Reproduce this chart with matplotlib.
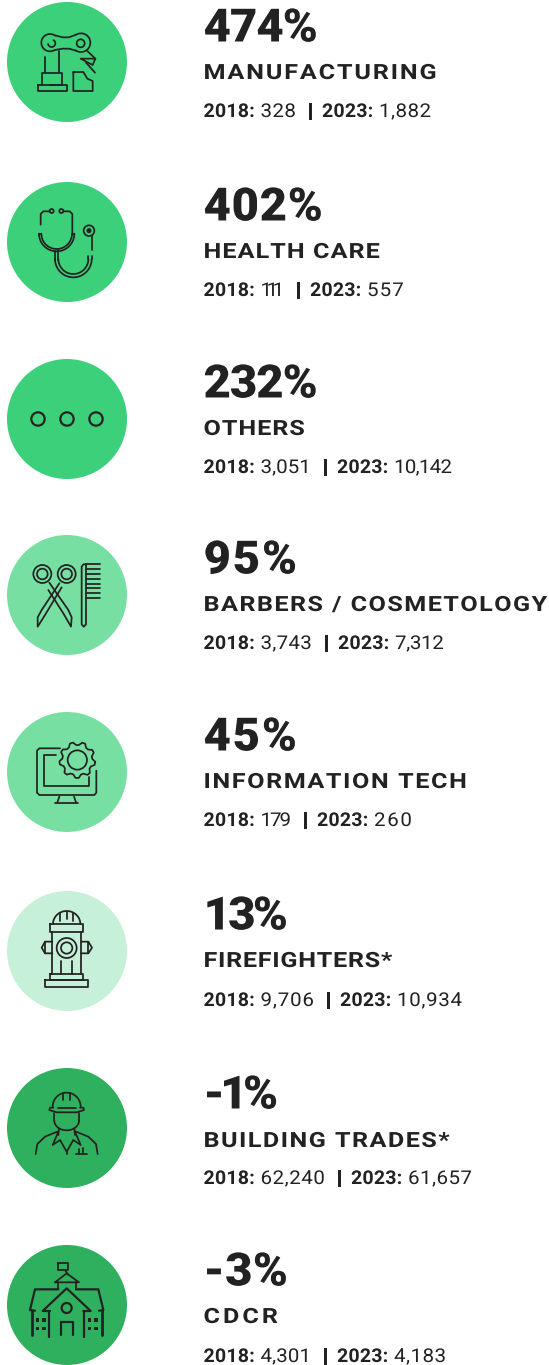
import numpy as np
import matplotlib
matplotlib.use("Agg")
import matplotlib.pyplot as plt
from matplotlib.patches import Circle, Rectangle
from matplotlib.patheffects import AbstractPathEffect
from matplotlib.path import Path
from matplotlib.textpath import text_to_path
from matplotlib.transforms import Affine2D

# ---- data ----
pct_labels = ["474%", "402%", "232%", "95%", "45%", "13%", "-1%", "-3%"]
sectors = ["MANUFACTURING", "HEALTH CARE", "OTHERS", "BARBERS / COSMETOLOGY",
           "INFORMATION TECH", "FIREFIGHTERS*", "BUILDING TRADES*", "CDCR"]
values_2018 = ["328", "111", "3,051", "3,743", "179", "9,706", "62,240", "4,301"]
values_2023 = ["1,882", "557", "10,142", "7,312", "260", "10,934", "61,657", "4,183"]
circle_colors = ["#3DD07A", "#3DD07A", "#3DD07A", "#78DFA2",
                 "#78DFA2", "#C6F0D8", "#2FB05E", "#2FB05E"]

# ---- layout (pixels) ----
W, H = 549, 1365
centers_y = [62, 242, 419, 595, 772, 951, 1128, 1305]
pct_base = [41.5, 220.5, 397.5, 573.5, 750.5, 929.5, 1108.5, 1285.5]
label_base = [79, 258, 435, 611, 788, 967, 1147, 1323]
stat_base = [117, 296, 473, 649, 826, 1006, 1184, 1362]
pct_end = [318, 323, 318, 297, 297, 288, 278, 288]
label_end = [437, 380, 305, 548, 467, 393, 450, 278]
x_2023 = [322, 310, 337, 338, 317, 340, 351, 337]
stat_end = [431, 404, 452, 444, 412, 462, 472, 446]
CX, R, TX = 67, 60, 203.5
INK = "#222222"
LW = 1.75

fig = plt.figure(figsize=(W / 72, H / 72), dpi=72, facecolor="white")
ax = fig.add_axes([0, 0, 1, 1])
ax.set_xlim(0, W)
ax.set_ylim(H, 0)
ax.axis("off")
renderer = fig.canvas.get_renderer()


class Track(AbstractPathEffect):
    """Letter tracking: shifts each glyph's outline by t px per preceding character."""
    def __init__(self, s, prop, t, sx, x0):
        super().__init__()
        self.t, self.sx, self.x0 = t, sx, x0
        self.edges = np.array([text_to_path.get_text_width_height_descent(s[:i], prop, False)[0]
                               for i in range(1, len(s))])

    def draw_path(self, renderer, gc, tpath, affine, rgbFace=None):
        a = abs(affine.get_matrix()[0, 0])
        v = tpath.vertices.copy()
        starts = list(np.nonzero(tpath.codes == Path.MOVETO)[0]) + [len(v)]
        for b, e in zip(starts[:-1], starts[1:]):
            c = (v[b:e, 0].min() + v[b:e, 0].max()) / 2 * a
            v[b:e, 0] += np.sum(self.edges <= c) * self.t / a / self.sx
        aff = affine + Affine2D().translate(-self.x0, 0).scale(self.sx, 1).translate(self.x0, 0)
        renderer.draw_path(gc, Path(v, tpath.codes), aff, rgbFace)


def put(x, y, s, size, weight, sx=1.0, end=None, track=0.0):
    t = ax.text(x, y, s, fontsize=size, fontweight=weight, family="Roboto",
                color=INK, va="baseline", ha="left")
    w = t.get_window_extent(renderer).width
    if end is not None and len(s) > 1:
        track = (end - x - w * sx) / (len(s) - 1)
    t.set_path_effects([Track(s, t.get_fontproperties(), track, sx, x)])
    return x + w * sx + track * (len(s) - 1)


# ---- icon helpers: coordinates are in the 3x crop frame around the circle centre ----
class Icon:
    def __init__(self, cy, ox=201, oy=0):
        self.cy, self.ox, self.oy = cy, ox, oy

    def X(self, x): return CX + (np.asarray(x, float) - self.ox) / 3

    def Y(self, y): return self.cy + (np.asarray(y, float) - self.oy) / 3

    def line(self, *pts, lw=LW, closed=False):
        pts = list(pts) + ([pts[0]] if closed else [])
        xs, ys = zip(*pts)
        ax.plot(self.X(xs), self.Y(ys), color=INK, lw=lw, solid_capstyle="round",
                solid_joinstyle="round", zorder=3)

    def circ(self, x, y, r, lw=LW, fill=False):
        ax.add_patch(Circle((float(self.X(x)), float(self.Y(y))), r / 3,
                            fc=INK if fill else "none", ec=INK, lw=lw, zorder=3))

    def arc(self, x, y, r, a0, a1, lw=LW, ry=None):
        t = np.radians(np.linspace(a0, a1, 50))
        ry = r if ry is None else ry
        ax.plot(self.X(x + r * np.cos(t)), self.Y(y + ry * np.sin(t)), color=INK, lw=lw,
                solid_capstyle="round", zorder=3)

    def rect(self, x0, y0, x1, y1, lw=LW):
        self.line((x0, y0), (x1, y0), (x1, y1), (x0, y1), lw=lw, closed=True)

    def sq(self, x, y, s):
        ax.add_patch(Rectangle((float(self.X(x - s / 2)), float(self.Y(y - s / 2))), s / 3, s / 3,
                               fc=INK, ec="none", zorder=3))


def robot(cy):
    i = Icon(cy, 201, 188)
    i.arc(150, 130, 26, 55, 305)
    i.arc(243, 130, 28, -120, 125)
    i.line((165, 108), (188, 114), (207, 114), (228, 106))
    i.line((165, 152), (188, 148), (207, 148), (228, 154))
    i.arc(155, 132, 11, -60, 170)
    i.circ(242, 132, 12)
    i.line((134, 172), (134, 218))
    i.line((178, 155), (178, 218))
    i.line((127, 258), (127, 220), (185, 220), (185, 258))
    i.rect(113, 258, 200, 275)
    i.line((150, 258), (185, 258))
    i.line((262, 155), (286, 178), (278, 197), (242, 178), (286, 178))
    i.line((258, 190), (272, 205), (285, 220))
    i.line((220, 218), (250, 218), (262, 238), (278, 245), (278, 275), (220, 275), closed=True)


def stethoscope(cy):
    i = Icon(cy, 201, 197)
    i.circ(155, 104, 6)
    i.circ(184, 104, 6)
    i.line((148, 105), (130, 105), (122, 113), (122, 145))
    i.line((191, 105), (209, 105), (217, 113), (217, 170))
    i.arc(170, 172, 53, 0, 180)
    i.arc(170, 172, 46, 0, 180)
    i.line((117, 172), (124, 172))
    i.line((216, 172), (223, 172))
    i.line((165, 225), (165, 250))
    i.line((175, 222), (175, 250))
    i.arc(220, 248, 55, 0, 180)
    i.arc(220, 248, 45, 0, 180)
    i.line((275, 248), (275, 238))
    i.line((265, 248), (265, 238))
    i.line((275, 222), (275, 180))
    i.circ(267, 163, 16)
    i.circ(267, 163, 5, fill=True)


def dots(cy):
    i = Icon(cy, 201, 0)
    for dx in (-87, 0, 87):
        i.circ(201 + dx, 0, 20, lw=2.2)


def scissors(cy):
    i = Icon(cy, 201, 195)
    for x in (127, 200):
        i.circ(x, 132, 27)
        i.circ(x, 132, 16)
    i.line((148, 158), (205, 240), (215, 262), (213, 290), (190, 250), (145, 180))
    i.line((178, 160), (125, 240), (113, 262), (113, 290), (135, 255), (185, 172))
    i.line((258, 103), (250, 103), (245, 110), (245, 283), (251, 290), (258, 283), (258, 103))
    for y in (103, 118, 133, 147, 161, 175, 190, 205):
        i.line((258, y), (300, y))


def monitor(cy):
    i = Icon(cy, 201, 726)
    i.line((180, 655), (118, 655), (111, 662), (111, 788), (118, 795), (283, 795), (289, 788), (289, 722))
    i.line((168, 675), (132, 675), (132, 767), (268, 767), (268, 742))
    i.circ(232, 690, 29)
    n = 9
    a = np.linspace(0, 2 * np.pi, n * 4, endpoint=False)
    r = np.where(np.arange(n * 4) % 4 < 2, 54, 45)
    gx, gy = 232 + r * np.cos(a + 0.1), 690 + r * np.sin(a + 0.1)
    i.line(*zip(gx, gy), closed=True)
    i.line((178, 800), (172, 817))
    i.line((222, 800), (228, 817))
    i.line((166, 818), (233, 818))


def hydrant(cy):
    i = Icon(cy, 201, 213)
    i.arc(200, 132, 41, 180, 360, ry=39)
    for x, y0 in ((180, 100), (200, 95), (220, 100)):
        i.line((x, y0), (x, y0 + 22))
    i.rect(150, 133, 250, 157)
    i.line((157, 157), (157, 283))
    i.line((243, 157), (243, 283))
    i.circ(200, 204, 30)
    i.circ(200, 204, 17)
    i.line((157, 185), (135, 185), (125, 203), (135, 220), (157, 220))
    i.line((243, 185), (265, 185), (276, 203), (265, 220), (243, 220))
    i.line((135, 185), (135, 220))
    i.line((265, 185), (265, 220))
    i.line((184, 243), (184, 283))
    i.line((216, 243), (216, 283))
    i.rect(150, 283, 250, 301)
    i.rect(135, 301, 265, 321)


def worker(cy):
    i = Icon(cy, 201, 744)
    i.arc(200, 680, 42, 180, 360)
    i.line((190, 638), (190, 660))
    i.line((210, 638), (210, 660))
    i.line((160, 683), (150, 683), (148, 690), (170, 697), (230, 697), (252, 690), (250, 683), (240, 683))
    i.line((175, 683), (228, 683))
    i.line((163, 700), (163, 722))
    i.line((237, 700), (237, 722))
    i.arc(200, 722, 37, 0, 180, ry=29)
    i.line((177, 745), (175, 765))
    i.line((223, 745), (225, 765))
    i.line((107, 822), (112, 792), (135, 770), (172, 755))
    i.line((293, 822), (288, 792), (265, 770), (228, 755))
    i.line((175, 755), (158, 795), (180, 780), (200, 815), (220, 780), (242, 795), (225, 755))
    i.line((200, 815), (200, 822))
    i.line((228, 822), (262, 822))
    i.line((238, 808), (238, 820))
    i.line((248, 805), (248, 820))


def school(cy):
    i = Icon(cy, 201, 195)
    i.rect(173, 70, 203, 90)
    i.line((195, 90), (204, 104))
    i.line((165, 127), (200, 100), (237, 127), closed=True)
    i.line((175, 127), (175, 148))
    i.line((228, 127), (228, 148))
    i.line((175, 148), (105, 148), (90, 210), (105, 212), lw=2.2)
    i.line((228, 148), (295, 148), (310, 210), (297, 212), lw=2.2)
    i.line((150, 213), (128, 213), (200, 145), (272, 213), (250, 213), lw=2.2)
    for x in (148, 252):
        i.line((x, 213), (x, 290), lw=2.2)
    for x in (95, 305):
        i.line((x, 212), (x, 285), lw=2.8)
    i.circ(200, 204, 15, lw=2.2)
    i.line((182, 285), (182, 245), (218, 245), (218, 285), lw=2.2)
    for x in (112, 132, 268, 288):
        for y in (240, 265):
            i.sq(x, y, 11)


icons = [robot, stethoscope, dots, scissors, monitor, hydrant, worker, school]

for k in range(len(sectors)):
    ax.add_patch(Circle((CX, centers_y[k]), R, fc=circle_colors[k], ec="none", zorder=1))
    icons[k](centers_y[k])
    put(TX, pct_base[k], pct_labels[k], 46, "black", 1.03, end=pct_end[k])
    put(TX, label_base[k], sectors[k], 21, "bold", 1.2, end=label_end[k])
    y = stat_base[k]
    x = put(TX, y, "2018:", 19, "bold", 1.03, track=0.2)
    put(x + 6, y, values_2018[k], 19, "normal", 1.08, end=x_2023[k] - 26)
    put(x_2023[k] - 15, y, "|", 19, "normal", 1.5)
    x = put(x_2023[k], y, "2023:", 19, "bold", 1.03, track=0.2)
    put(x + 6, y, values_2023[k], 19, "normal", 1.08, end=stat_end[k])

fig.savefig("out.png", dpi=72, facecolor="white")
